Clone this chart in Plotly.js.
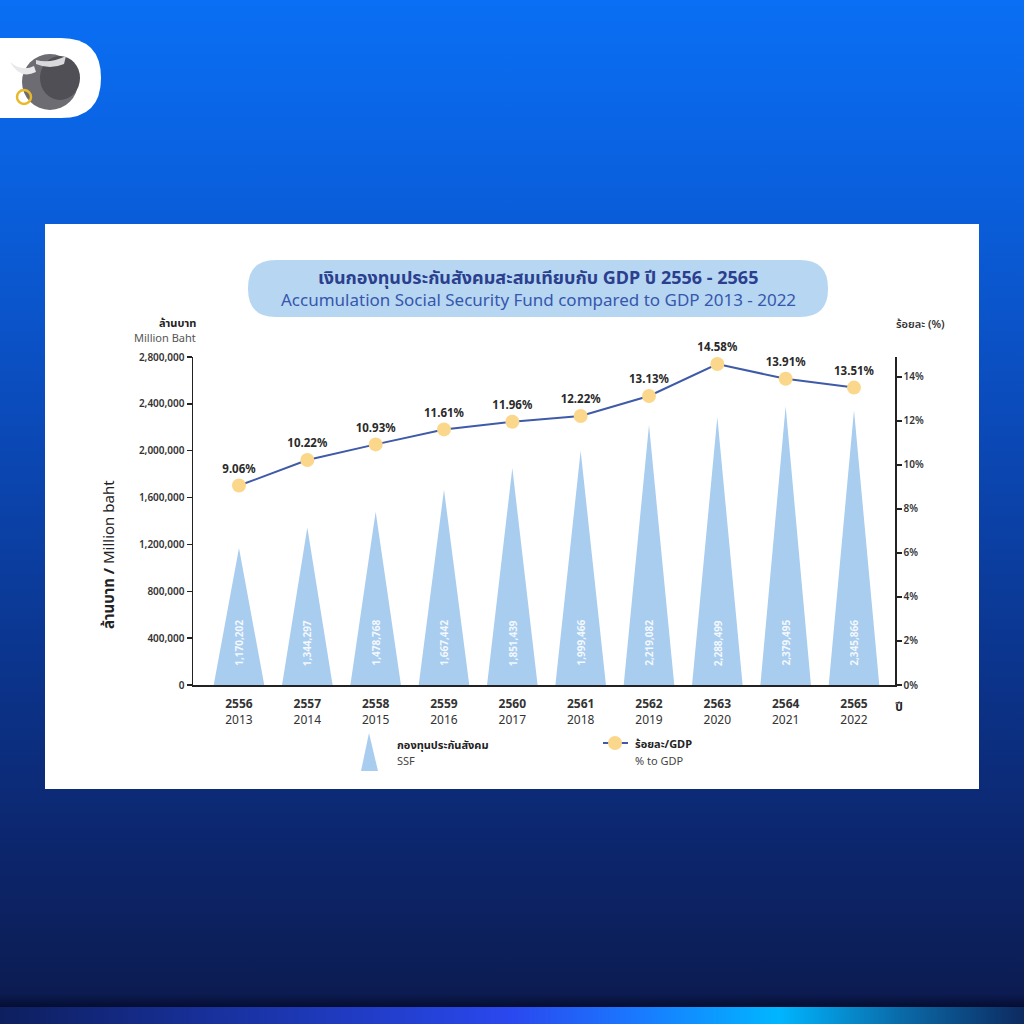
<!DOCTYPE html>
<html><head><meta charset="utf-8">
<script src="https://cdn.plot.ly/plotly-3.0.1.min.js"></script>
<style>
html,body{margin:0;padding:0;width:1024px;height:1024px;overflow:hidden;}
body{background:linear-gradient(180deg,#0a6ff4 0%,#0a60de 18%,#0b4bbb 40%,#0b3792 62%,#0c2872 80%,#0c1c52 97%,#050d30 98.4%);}
#strip{position:absolute;left:0;top:1007px;width:1024px;height:17px;background:linear-gradient(90deg,#0d1f5e 0%,#1a34a8 25%,#2a48ef 50%,#1a78ff 62%,#00b6ff 76%,#0a6aa8 88%,#0d2a60 100%);}
#chart{position:absolute;left:0;top:0;width:1024px;height:1024px;}
</style></head>
<body>
<div id="strip"></div>
<div id="chart"></div>
<script>
// ---- data ----
const yearsBE = ['2556','2557','2558','2559','2560','2561','2562','2563','2564','2565'];
const yearsCE = ['2013','2014','2015','2016','2017','2018','2019','2020','2021','2022'];
const ssfValues = [1170202,1344297,1478768,1667442,1851439,1999466,2219082,2288499,2379495,2345866];
const pctToGDP = [9.06,10.22,10.93,11.61,11.96,12.22,13.13,14.58,13.91,13.51];
const leftTickVals = [0,400000,800000,1200000,1600000,2000000,2400000,2800000];
const rightTickVals = [0,2,4,6,8,10,12,14];

// ---- layout helpers (pixel -> paper) ----
const PL=193, PR=895, PT=357, PB=685;
const X = px => (px-PL)/(PR-PL);
const Y = py => (PB-py)/(PB-PT);
function rr(x0,y0,x1,y1,r){
  const p=(x,y)=>X(x)+','+Y(y);
  return 'M'+p(x0+r,y0)+' L'+p(x1-r,y0)+' Q'+p(x1,y0)+' '+p(x1,y0+r)+
    ' L'+p(x1,y1-r)+' Q'+p(x1,y1)+' '+p(x1-r,y1)+' L'+p(x0+r,y1)+
    ' Q'+p(x0,y1)+' '+p(x0,y1-r)+' L'+p(x0,y0+r)+' Q'+p(x0,y0)+' '+p(x0+r,y0)+' Z';
}
const FONT = "'Noto Sans', 'Noto Sans Thai', 'Open Sans', sans-serif";

// ---- triangles ----
const hw = 0.37;
const triX=[], triY=[];
ssfValues.forEach((v,i)=>{ triX.push(i-hw,i,i+hw,i-hw,null); triY.push(0,v,0,0,null); });

const traces = [
  {type:'scatter', x:triX, y:triY, mode:'lines', fill:'toself', fillcolor:'#a9cdef',
   line:{width:0,color:'#a9cdef'}, hoverinfo:'skip', showlegend:false},
  {type:'scatter', x:yearsBE.map((_,i)=>i), y:pctToGDP, yaxis:'y2', mode:'lines+markers+text',
   line:{color:'#3e5aa8',width:2}, marker:{size:14,color:'#fbd78b'},
   text:pctToGDP.map(v=>v.toFixed(2)+'%'), textposition:'top center',
   textfont:{size:11.5,color:'#2a2a2a',family:FONT,weight:700}, showlegend:false, cliponaxis:false}
];

const annotations = [];
ssfValues.forEach((v,i)=>annotations.push({x:i,y:360000,xref:'x',yref:'y',text:v.toLocaleString('en-US'),
  textangle:-90,showarrow:false,font:{size:10,color:'rgba(255,255,255,0.88)',family:FONT,weight:700}}));
const A=(px,py,text,o)=>annotations.push(Object.assign({x:X(px),y:Y(py),xref:'paper',yref:'paper',text:text,showarrow:false,
  xanchor:'center',yanchor:'middle',font:{family:FONT,size:11,color:'#222'}},o||{}));
A(538,277,'เงินกองทุนประกันสังคมสะสมเทียบกับ GDP ปี 2556 - 2565',{font:{family:FONT,size:18,color:'#2b3f8e',weight:700}});
A(538,299,'Accumulation Social Security Fund compared to GDP 2013 - 2022',{font:{family:FONT,size:17,color:'#3657ad'}});
A(198,322,'ล้านบาท',{xanchor:'right',font:{family:FONT,size:11,color:'#222',weight:700}});
A(198,337,'Million Baht',{xanchor:'right',font:{family:FONT,size:11,color:'#555'}});
A(920,323,'ร้อยละ (%)',{font:{family:FONT,size:11,color:'#333',weight:600}});
A(899,706,'ปี',{font:{family:FONT,size:12,color:'#222',weight:700}});
A(108,555,'<b>ล้านบาท /</b> Million baht',{textangle:-90,font:{family:FONT,size:15,color:'#222'}});
A(395,744,'กองทุนประกันสังคม',{xanchor:'left',font:{family:FONT,size:11,color:'#222',weight:700}});
A(395,760,'SSF',{xanchor:'left',font:{family:FONT,size:11,color:'#444'}});
A(633,743,'ร้อยละ/GDP',{xanchor:'left',font:{family:FONT,size:11,color:'#222',weight:700}});
A(633,760,'% to GDP',{xanchor:'left',font:{family:FONT,size:11,color:'#444'}});

const shapes = [
  {type:'rect',xref:'paper',yref:'paper',x0:X(45),x1:X(979),y0:Y(789),y1:Y(224),fillcolor:'#ffffff',line:{width:0},layer:'below'},
  {type:'path',xref:'paper',yref:'paper',path:rr(248,260,828,317,28),fillcolor:'#b6d6f1',line:{width:0},layer:'below'},
  // legend triangle
  {type:'path',xref:'paper',yref:'paper',path:'M'+X(361)+','+Y(771)+' L'+X(369)+','+Y(733)+' L'+X(378)+','+Y(771)+' Z',fillcolor:'#a9cdef',line:{width:0}},
  // legend line + marker
  {type:'line',xref:'paper',yref:'paper',x0:X(603),x1:X(628),y0:Y(743),y1:Y(743),line:{color:'#3e5aa8',width:2,dash:'dash'}},
  {type:'circle',xref:'paper',yref:'paper',x0:X(608),x1:X(622),y0:Y(750),y1:Y(736),fillcolor:'#fbd78b',line:{width:0}},
  // logo pill
  {type:'path',xref:'paper',yref:'paper',path:rr(-40,38,101,118,40),fillcolor:'#ffffff',line:{width:0},layer:'below'},
  {type:'circle',xref:'paper',yref:'paper',x0:X(22),x1:X(78),y0:Y(110),y1:Y(54),fillcolor:'#6c6c72',line:{width:0}},
  {type:'circle',xref:'paper',yref:'paper',x0:X(40),x1:X(80),y0:Y(100),y1:Y(56),fillcolor:'#4f4f55',line:{width:0}},
  {type:'path',xref:'paper',yref:'paper',path:'M'+X(10)+','+Y(62)+' Q'+X(20)+','+Y(80)+' '+X(36)+','+Y(72)+' L'+X(34)+','+Y(66)+' Q'+X(22)+','+Y(72)+' '+X(10)+','+Y(62)+' Z',fillcolor:'#e8e8ea',line:{width:0}},
  {type:'path',xref:'paper',yref:'paper',path:'M'+X(36)+','+Y(60)+' Q'+X(50)+','+Y(64)+' '+X(66)+','+Y(56)+' L'+X(64)+','+Y(64)+' Q'+X(50)+','+Y(70)+' '+X(36)+','+Y(64)+' Z',fillcolor:'#d9d9dc',line:{width:0}},
  {type:'circle',xref:'paper',yref:'paper',x0:X(17),x1:X(31),y0:Y(104),y1:Y(90),fillcolor:'rgba(0,0,0,0)',line:{color:'#e8b92a',width:2.5}}
];

const axisCommon = {showgrid:false,zeroline:false,showline:true,linecolor:'#222',linewidth:1.5,fixedrange:true};
const layout = {
  width:1024,height:1024,
  margin:{l:PL,r:1024-PR,t:PT,b:1024-PB,pad:0},
  paper_bgcolor:'rgba(0,0,0,0)',plot_bgcolor:'rgba(0,0,0,0)',
  font:{family:FONT},
  showlegend:false,
  xaxis:Object.assign({},axisCommon,{range:[-0.673,9.6],tickvals:yearsBE.map((_,i)=>i),
    ticktext:yearsBE.map((b,i)=>'<b>'+b+'</b><br>'+yearsCE[i]),ticks:'outside',ticklen:7,tickcolor:'rgba(0,0,0,0)',
    tickfont:{size:12,color:'#333',family:FONT}}),
  yaxis:Object.assign({},axisCommon,{range:[0,2800000],tickvals:leftTickVals,ticktext:leftTickVals.map(v=>v.toLocaleString('en-US')),
    ticks:'outside',ticklen:5,tickwidth:1.5,tickcolor:'#222',tickfont:{size:10,color:'#333',family:FONT,weight:600}}),
  yaxis2:Object.assign({},axisCommon,{overlaying:'y',side:'right',anchor:'x',range:[0,14.9],tickvals:rightTickVals,
    ticktext:rightTickVals.map(v=>v+'%'),ticks:'outside',ticklen:5,tickwidth:1.5,tickcolor:'#222',
    tickfont:{size:10,color:'#333',family:FONT,weight:600}}),
  annotations:annotations,
  shapes:shapes
};
Plotly.newPlot('chart',traces,layout,{staticPlot:true,displayModeBar:false});
</script>
</body></html>
